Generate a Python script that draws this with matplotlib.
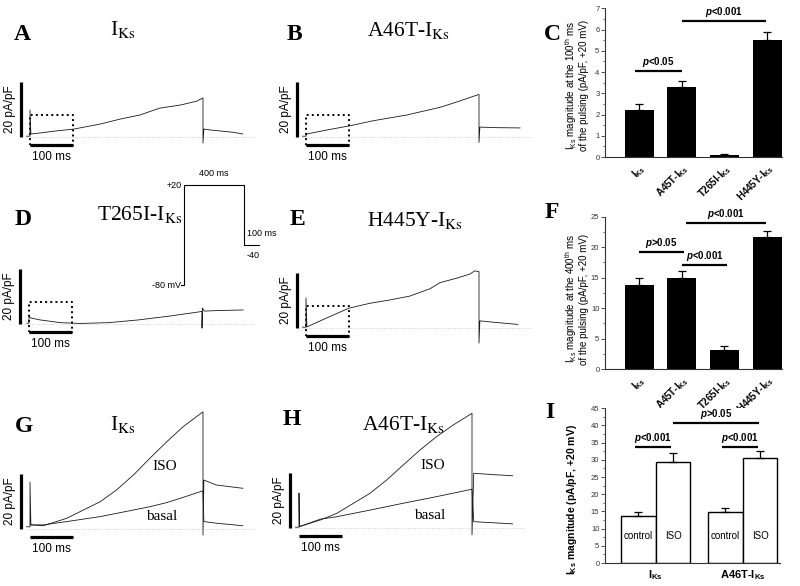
import matplotlib
matplotlib.use("Agg")
import matplotlib.pyplot as plt
from matplotlib.ticker import MultipleLocator

# ---- current traces (time in ms, current in pA/pF) ----
A_t = [-8, 0, 0, 2, 25, 60, 102, 162, 208, 254, 300, 347, 385, 400, 400, 402, 420, 440, 470, 492]
A_i = [0.3, 0.3, 9.8, 1.1, 1.5, 2.2, 2.9, 4.7, 6.5, 8.0, 10.5, 11.6, 13.0, 14.2, -2.2, 2.9, 2.5, 2.2, 1.7, 1.1]

B_t = [-8, 0, 2, 50, 102, 155, 233, 310, 350, 400, 400, 402, 440, 495]
B_i = [0.3, 0.3, 1.1, 2.6, 4.1, 5.9, 8.0, 10.8, 12.8, 15.5, -2.0, 3.6, 3.4, 3.3]

D_t = [-5, 0, 0, 4, 25, 72, 118, 185, 254, 326, 393, 400, 400, 401, 405, 439, 495]
D_i = [0.3, 0.3, 2.8, 2.2, 1.5, 0.5, 0.2, 0.5, 1.5, 2.9, 4.4, 4.6, -1.5, 5.8, 4.7, 4.9, 5.1]

E_t = [-8, 0, 0, 2, 50, 99, 148, 194, 240, 287, 310, 348, 379, 390, 398, 400, 400, 402, 440, 490]
E_i = [0.3, 0.3, 10.9, 0.4, 3.8, 7.2, 9.0, 10.2, 11.6, 14.3, 16.5, 18.1, 19.6, 20.8, 20.5, 20.5, -5.5, 2.6, 2.0, 1.3]

G_iso_t = [-8, 0, 0, 2, 31, 85, 131, 162, 200, 239, 277, 316, 354, 400, 400, 402, 431, 492]
G_iso_i = [0.8, 0.8, 17.0, 1.5, 1.2, 3.9, 7.5, 9.9, 14.2, 19.6, 25.7, 31.7, 37.2, 42.6, -2.2, 17.8, 16.0, 14.8]
G_bas_t = [2, 31, 85, 162, 239, 277, 316, 354, 400, 402, 431, 492]
G_bas_i = [1.5, 1.5, 2.7, 4.5, 6.9, 8.1, 9.6, 11.5, 13.9, 2.7, 2.1, 1.2]

H_iso_t = [-8, 0, 0, 1, 49, 87, 126, 164, 203, 241, 280, 318, 357, 400, 400, 404, 450, 494]
H_iso_i = [0.3, 0.3, 12.7, 0.5, 2.9, 5.3, 9.0, 12.6, 17.5, 22.9, 28.4, 33.2, 37.5, 41.7, -2.5, 19.9, 19.4, 19.0]
H_bas_t = [1, 49, 87, 164, 241, 318, 400, 404, 450, 494]
H_bas_i = [0.5, 3.2, 4.1, 6.5, 9.0, 11.4, 14.1, 2.3, 1.9, 1.5]

# voltage protocol (ms, mV)
prot_t = [-20, 0, 0, 400, 400, 500]
prot_v = [-80, -80, 20, 20, -40, -40]

# ---- bar data ----
cf_labels = [r"I$_{\mathbf{Ks}}$", r"A45T-I$_{\mathbf{Ks}}$", r"T265I-I$_{\mathbf{Ks}}$", r"H445Y-I$_{\mathbf{Ks}}$"]
c_mean = [2.2, 3.3, 0.1, 5.5]
c_err = [0.3, 0.3, 0.05, 0.4]
f_mean = [13.8, 14.9, 3.2, 21.6]
f_err = [1.1, 1.2, 0.5, 1.0]
c_brackets = [(-0.1, 1.0, 4.05, r"$p$<0.05"), (1.0, 2.98, 6.42, r"$p$<0.001")]
f_brackets = [(0.0, 1.06, 19.2, r"$p$>0.05"), (1.0, 2.07, 17.0, r"$p$<0.001"),
              (1.1, 2.98, 24.0, r"$p$<0.001")]

i_groups = [r"I$_{\mathbf{Ks}}$", r"A46T-I$_{\mathbf{Ks}}$"]
i_control = [13.7, 14.9]
i_control_err = [1.2, 1.2]
i_iso = [29.3, 30.4]
i_iso_err = [2.6, 2.1]
i_brackets = [(-0.24, 0.18, 33.6, r"$p$<0.001"), (0.2, 1.19, 40.6, r"$p$>0.05"),
              (0.76, 1.18, 33.8, r"$p$<0.001")]

plt.rcParams["font.family"] = "Liberation Sans"
plt.rcParams["mathtext.fontset"] = "custom"
plt.rcParams["mathtext.rm"] = "Liberation Sans"
plt.rcParams["mathtext.bf"] = "Liberation Sans:bold"
plt.rcParams["mathtext.it"] = "Liberation Sans:italic:bold"

W, H = 800, 586
fig = plt.figure(figsize=(8, 5.86), dpi=100)

PX_MS = 0.4325   # pixels per ms in trace panels
PX_UNIT = 2.75   # pixels per pA/pF


def trace_axes(x0, y0, t_lo=-70, t_hi=540, i_lo=-12, i_hi=46):
    left = x0 + t_lo * PX_MS
    bottom_px = y0 - i_lo * PX_UNIT
    ax = fig.add_axes([left / W, 1 - bottom_px / H,
                       (t_hi - t_lo) * PX_MS / W, (i_hi - i_lo) * PX_UNIT / H])
    ax.set_xlim(t_lo, t_hi)
    ax.set_ylim(i_lo, i_hi)
    ax.axis("off")
    return ax


def scale_bars(ax, box=True):
    ax.plot([-10, 520], [0, 0], color="#c4c4c4", lw=0.6, ls=":")
    ax.plot([-21, -21], [0, 20], color="k", lw=2.3, solid_capstyle="butt")
    ax.plot([0, 100], [-3, -3], color="k", lw=2.3, solid_capstyle="butt")
    ax.text(50, -7.2, "100 ms", ha="center", va="center", fontsize=8.5)
    ax.text(-46, 10, "20 pA/pF", rotation=90, ha="center", va="center", fontsize=8.5)
    if box:
        ax.plot([0, 100, 100, 0, 0], [-3, -3, 8, 8, -3], color="k", lw=1.4, ls=":")


def letter(px, py, s):
    fig.text(px / W, 1 - py / H, s, fontsize=17, fontweight="bold",
             family="Liberation Serif", ha="left", va="baseline")


def title(px, py, s):
    fig.text(px / W, 1 - py / H, s, fontsize=15.5, family="Liberation Serif",
             math_fontfamily="stix", ha="left", va="baseline")


trace_kw = dict(color="#1a1a1a", lw=0.6)

# A
ax = trace_axes(30, 137)
scale_bars(ax)
ax.plot(A_t, A_i, **trace_kw)
# B
ax = trace_axes(306, 137)
scale_bars(ax)
ax.plot(B_t, B_i, **trace_kw)
# D
ax = trace_axes(29, 324)
scale_bars(ax)
ax.plot(D_t, D_i, **trace_kw)
# E
ax = trace_axes(306, 328)
scale_bars(ax)
ax.plot(E_t, E_i, **trace_kw)
# G
ax = trace_axes(30, 529)
scale_bars(ax, box=False)
ax.plot(G_iso_t, G_iso_i, **trace_kw)
ax.plot(G_bas_t, G_bas_i, **trace_kw)
ax.text(312, 22.9, "ISO", ha="center", va="center", fontsize=11, family="Liberation Serif")
ax.text(305, 4.7, "basal", ha="center", va="center", fontsize=11, family="Liberation Serif")
# H
ax = trace_axes(299, 528)
scale_bars(ax, box=False)
ax.plot(H_iso_t, H_iso_i, **trace_kw)
ax.plot(H_bas_t, H_bas_i, **trace_kw)
ax.text(310, 22.9, "ISO", ha="center", va="center", fontsize=11, family="Liberation Serif")
ax.text(303, 4.7, "basal", ha="center", va="center", fontsize=11, family="Liberation Serif")

# voltage protocol inset
P_MS, P_MV = 0.15, 1.0
t_lo, t_hi, v_lo, v_hi = -150, 650, -100, 40
x0, y0 = 184, 205
pax = fig.add_axes([(x0 + t_lo * P_MS) / W, 1 - (y0 - v_lo * P_MV) / H,
                    (t_hi - t_lo) * P_MS / W, (v_hi - v_lo) * P_MV / H])
pax.set_xlim(t_lo, t_hi)
pax.set_ylim(v_lo, v_hi)
pax.axis("off")
pax.plot(prot_t, prot_v, color="k", lw=0.8)
pax.text(-18, 20, "+20", ha="right", va="center", fontsize=6.5)
pax.text(200, 27, "400 ms", ha="center", va="bottom", fontsize=6.5)
pax.text(-22, -80, "-80 mV", ha="right", va="center", fontsize=6.5)
pax.text(420, -33, "100 ms", ha="left", va="bottom", fontsize=6.5)
pax.text(420, -46, "-40", ha="left", va="top", fontsize=6.5)

# letters and titles
letter(14, 40, "A"); title(110, 35, r"I$_{\rm Ks}$")
letter(287, 40, "B"); title(367, 36, r"A46T-I$_{\rm Ks}$")
letter(544, 40, "C")
letter(15, 225, "D"); title(97, 220, r"T265I-I$_{\rm Ks}$")
letter(290, 225, "E"); title(367, 226, r"H445Y-I$_{\rm Ks}$")
letter(545, 218, "F")
letter(15, 432, "G"); title(110, 430, r"I$_{\rm Ks}$")
letter(283, 425, "H"); title(362, 430, r"A46T-I$_{\rm Ks}$")
letter(545, 418, "I")


def style_bar_axes(ax):
    for s in ("top", "right"):
        ax.spines[s].set_visible(False)
    for s in ("left", "bottom"):
        ax.spines[s].set_linewidth(0.8)
        ax.spines[s].set_color("#333333")
    ax.tick_params(axis="y", which="major", direction="out", length=3, width=0.6,
                   labelsize=5.5, colors="#333333", pad=1)
    ax.tick_params(axis="y", which="minor", direction="out", length=1.8, width=0.5,
                   colors="#333333")
    ax.tick_params(axis="x", length=0)


def brackets(ax, items, fs=7):
    for x1, x2, y, txt in items:
        ax.plot([x1, x2], [y, y], color="k", lw=1.6, solid_capstyle="butt")
        ax.annotate(txt, xy=((x1 + x2) / 2, y), xytext=(0, 1.5), textcoords="offset points",
                    ha="center", va="bottom", fontsize=fs, fontweight="bold")


ekw = dict(ecolor="k", elinewidth=0.9, capsize=3, capthick=0.9)
pos = list(range(4))

# C
ax = fig.add_axes([605 / W, 1 - 157 / H, 177 / W, (157 - 8.3) / H])
ax.bar(pos, c_mean, width=0.68, color="k", yerr=[[0] * 4, c_err], error_kw=ekw)
ax.set_xlim(-0.797, 3.35)
ax.set_ylim(0, 7)
ax.yaxis.set_major_locator(MultipleLocator(1))
ax.yaxis.set_minor_locator(MultipleLocator(0.5))
style_bar_axes(ax)
ax.set_xticks(pos)
ax.set_xticklabels(cf_labels, rotation=45, ha="right", rotation_mode="anchor",
                   fontsize=7, fontweight="bold")
ax.set_ylabel(r"I$_{\rm Ks}$ magnitude at the 100$^{\rm th}$ ms" + "\n" +
              "of the pulsing (pA/pF, +20 mV)", fontsize=7, linespacing=1.05)
ax.yaxis.set_label_coords(-0.088, 0.48)
brackets(ax, c_brackets)

# F
ax = fig.add_axes([605 / W, 1 - 369 / H, 177 / W, (369 - 216.7) / H])
ax.bar(pos, f_mean, width=0.68, color="k", yerr=[[0] * 4, f_err], error_kw=ekw)
ax.set_xlim(-0.797, 3.35)
ax.set_ylim(0, 25)
ax.yaxis.set_major_locator(MultipleLocator(5))
ax.yaxis.set_minor_locator(MultipleLocator(2.5))
style_bar_axes(ax)
ax.set_xticks(pos)
ax.set_xticklabels(cf_labels, rotation=45, ha="right", rotation_mode="anchor",
                   fontsize=7, fontweight="bold")
ax.set_ylabel(r"I$_{\rm Ks}$ magnitude at the 400$^{\rm th}$ ms" + "\n" +
              "of the pulsing (pA/pF, +20 mV)", fontsize=7, linespacing=1.05)
ax.yaxis.set_label_coords(-0.088, 0.46)
brackets(ax, f_brackets)

# I
gpos = [0, 1]
ax = fig.add_axes([605 / W, 1 - 563 / H, 175 / W, (563 - 408.3) / H])
ax.bar([g - 0.2 for g in gpos], i_control, width=0.4, color="white", edgecolor="k",
       lw=1.0, yerr=[[0, 0], i_control_err], error_kw=ekw)
ax.bar([g + 0.2 for g in gpos], i_iso, width=0.4, color="white", edgecolor="k",
       lw=1.0, yerr=[[0, 0], i_iso_err], error_kw=ekw)
for g in gpos:
    ax.text(g - 0.2, 7.8, "control", ha="center", va="center", fontsize=7)
    ax.text(g + 0.2, 7.8, "ISO", ha="center", va="center", fontsize=7)
ax.set_xlim(-0.583, 1.43)
ax.set_ylim(0, 45)
ax.yaxis.set_major_locator(MultipleLocator(5))
ax.yaxis.set_minor_locator(MultipleLocator(2.5))
style_bar_axes(ax)
ax.set_xticks(gpos)
ax.set_xticklabels(i_groups, fontsize=8, fontweight="bold")
ax.tick_params(axis="x", pad=4)
ax.set_ylabel(r"I$_{\mathbf{Ks}}$ magnitude (pA/pF, +20 mV)", fontsize=7.5, fontweight="bold")
ax.yaxis.set_label_coords(-0.15, 0.41)
brackets(ax, i_brackets)

fig.savefig("out.png", dpi=100)
